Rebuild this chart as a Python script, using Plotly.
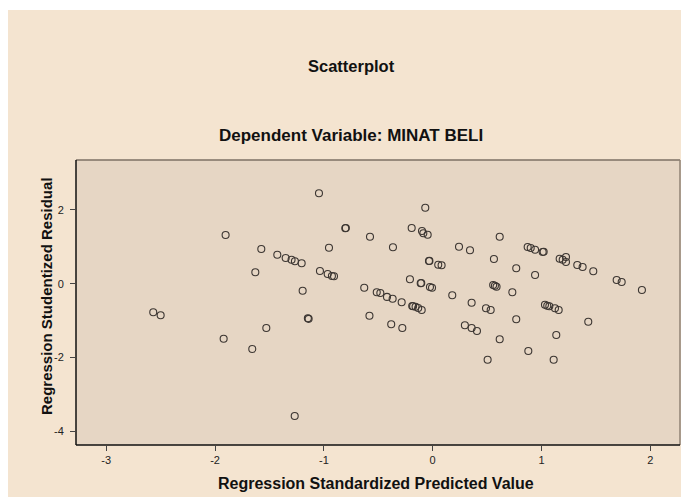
import plotly.graph_objects as go

# Regression Standardized Predicted Value (x) and Regression Studentized Residual (y)
pred = [-2.568, -2.50, -1.903, -1.921, -1.658, -1.575, -1.630, -1.529, -1.428, -1.351,
        -1.297, -1.266, -1.204, -1.195, -1.147, -1.140, -1.268, -1.045, -1.036, -0.965,
        -0.926, -0.907, -0.953, -0.803, -0.798, -0.576, -0.629, -0.581, -0.514, -0.481,
        -0.420, -0.368, -0.381, -0.365, -0.285, -0.279, -0.209, -0.193, -0.188, -0.180,
        -0.157, -0.133, -0.101, -0.110, -0.105, -0.098, -0.086, -0.046, -0.068, -0.034,
        -0.030, -0.025, -0.006, 0.051, 0.082, 0.180, 0.242, 0.343, 0.358, 0.296,
        0.358, 0.407, 0.490, 0.533, 0.505, 0.563, 0.556, 0.572, 0.587, 0.616,
        0.616, 0.732, 0.768, 0.768, 0.873, 0.901, 0.941, 0.941, 0.879, 1.011,
        1.020, 1.032, 1.053, 1.072, 1.124, 1.158, 1.136, 1.112, 1.167, 1.195,
        1.225, 1.225, 1.329, 1.378, 1.476, 1.430, 1.691, 1.737, 1.923]
resid = [-0.772, -0.853, 1.322, -1.487, -1.766, 0.943, 0.311, -1.197, 0.788, 0.699,
         0.653, 0.609, 0.555, -0.187, -0.934, -0.950, -3.581, 2.451, 0.347, 0.265,
         0.211, 0.203, 0.978, 1.503, 1.510, 1.276, -0.106, -0.864, -0.230, -0.249,
         -0.355, -0.404, -1.097, 0.989, -0.501, -1.197, 0.122, 1.511, -0.601, -0.610,
         -0.620, -0.655, -0.710, 0.014, 0.020, 1.430, 1.368, 1.330, 2.061, 0.618,
         0.620, -0.087, -0.106, 0.517, 0.501, -0.311, 1.005, 0.907, -0.512, -1.124,
         -1.197, -1.278, -0.664, -0.710, -2.056, 0.672, -0.033, -0.051, -0.079, 1.276,
         -1.503, -0.230, 0.420, -0.962, 0.997, 0.970, 0.924, 0.238, -1.820, 0.861,
         0.870, -0.566, -0.593, -0.609, -0.664, -0.710, -1.387, -2.056, 0.680, 0.653,
         0.726, 0.590, 0.509, 0.455, 0.339, -1.027, 0.103, 0.049, -0.168]

x_ticks = [-3, -2, -1, 0, 1, 2]
x_tick_text = ["-3", "-2", "-1", "0", "1", "2"]
y_ticks = [-4, -2, 0, 2]
y_tick_text = ["-4", "-2", "0", "2"]

W, H = 681, 497
L, R, T, B = 76, 680, 160, 445


def fx(p):
    return (p - L) / (R - L)


def fy(p):
    return (B - p) / (B - T)


FONT = "Liberation Sans, Arial, sans-serif"

fig = go.Figure(go.Scatter(
    x=pred, y=resid, mode="markers",
    marker=dict(symbol="circle-open", size=7, color="#3c3632",
                line=dict(width=1.1, color="#3c3632")),
    hoverinfo="skip", showlegend=False))

fig.update_layout(
    width=W, height=H,
    margin=dict(l=L, r=W - R, t=T, b=H - B, pad=0),
    paper_bgcolor="#F4E4D0",
    plot_bgcolor="#E6D6C4",
    font=dict(family=FONT, size=11, color="#222222"),
    xaxis=dict(range=[-3.278, 2.273], tickvals=x_ticks, ticktext=x_tick_text,
               showgrid=False, zeroline=False, showline=False,
               ticks="outside", ticklen=5, tickwidth=1, tickcolor="#444444",
               ticklabelstandoff=0,
               tickfont=dict(size=11, color="#222222")),
    yaxis=dict(range=[-4.366, 3.353], tickvals=y_ticks, ticktext=y_tick_text,
               showgrid=False, zeroline=False, showline=False,
               ticks="outside", ticklen=5, tickwidth=1, tickcolor="#444444",
               ticklabelstandoff=4,
               tickfont=dict(size=11, color="#222222")),
    shapes=[
        # white strips at top and left of the chart
        dict(type="rect", xref="paper", yref="paper", x0=fx(0), x1=fx(8), y0=fy(H), y1=fy(0),
             fillcolor="white", line=dict(width=0), layer="below"),
        dict(type="rect", xref="paper", yref="paper", x0=fx(0), x1=fx(W), y0=fy(10), y1=fy(0),
             fillcolor="white", line=dict(width=0), layer="below"),
        # frame
        dict(type="line", xref="paper", yref="paper", x0=0, x1=1, y0=1, y1=1,
             line=dict(color="#7d7064", width=1.5), layer="above"),
        dict(type="line", xref="paper", yref="paper", x0=1, x1=1, y0=0, y1=1,
             line=dict(color="#8f8275", width=1.5), layer="above"),
        dict(type="line", xref="paper", yref="paper", x0=0, x1=0, y0=0, y1=1,
             line=dict(color="#111111", width=1.5), layer="above"),
        dict(type="line", xref="paper", yref="paper", x0=0, x1=1, y0=0, y1=0,
             line=dict(color="#111111", width=1.5), layer="above"),
    ],
    annotations=[
        dict(text="<b>Scatterplot</b>", xref="paper", yref="paper",
             x=fx(351), y=fy(66), xanchor="center", yanchor="middle",
             showarrow=False, font=dict(size=16.5, color="#111111", family=FONT)),
        dict(text="<b>Dependent Variable: MINAT BELI</b>", xref="paper", yref="paper",
             x=fx(351), y=fy(135), xanchor="center", yanchor="middle",
             showarrow=False, font=dict(size=17, color="#111111", family=FONT)),
        dict(text="<b>Regression Standardized Predicted Value</b>", xref="paper", yref="paper",
             x=fx(376), y=fy(483), xanchor="center", yanchor="middle",
             showarrow=False, font=dict(size=16, color="#111111", family=FONT)),
        dict(text="<b>Regression Studentized Residual</b>", xref="paper", yref="paper",
             x=fx(46), y=fy(296), xanchor="center", yanchor="middle", textangle=-90,
             showarrow=False, font=dict(size=15, color="#111111", family=FONT)),
    ],
)

fig.write_html("out.html", config={"displayModeBar": False},
               post_script="document.body.style.margin='0';")
